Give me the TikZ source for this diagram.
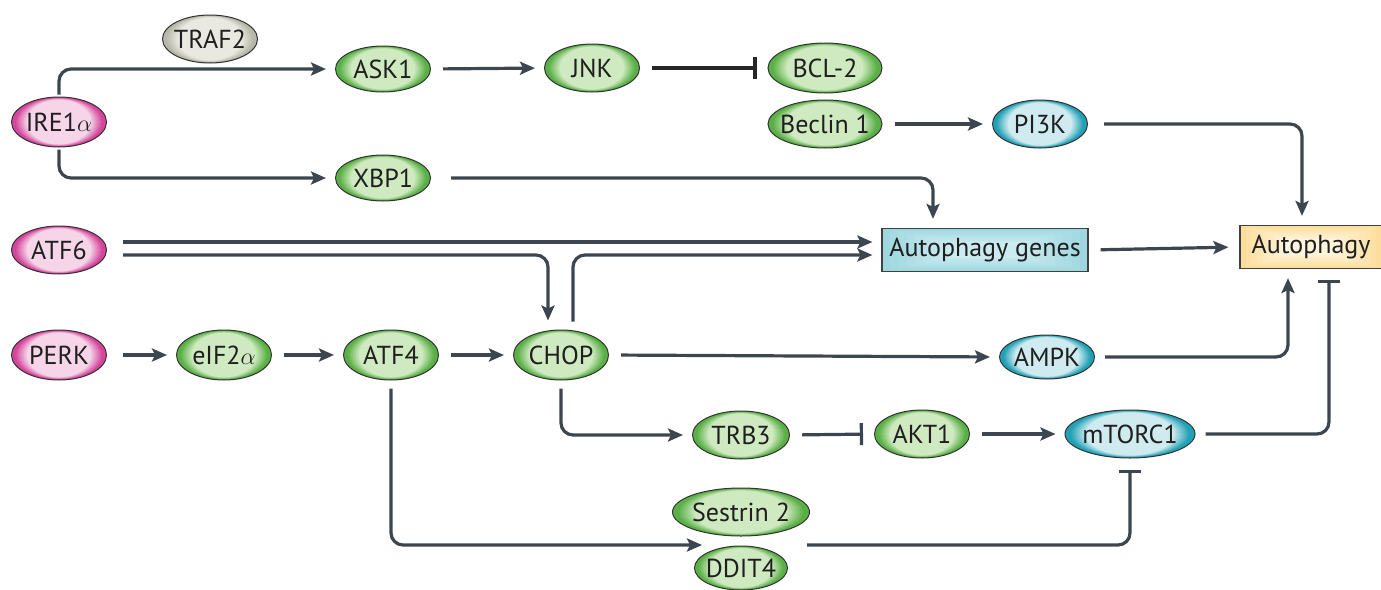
\documentclass[tikz,border=0pt]{standalone}
\usepackage{fontspec}
\setmainfont{PT Sans}
\usetikzlibrary{shapes.geometric,arrows.meta}
\definecolor{lc}{HTML}{3C4650}
\definecolor{gD}{HTML}{5AB046}\definecolor{gL}{HTML}{CFE9C0}
\definecolor{pD}{HTML}{D4459C}\definecolor{pL}{HTML}{F6D5E9}
\definecolor{bD}{HTML}{22A0B6}\definecolor{bL}{HTML}{CFEBF0}
\definecolor{yD}{HTML}{B8B8A9}\definecolor{yL}{HTML}{E9E9E1}
\definecolor{cD}{HTML}{9FD7E0}\definecolor{cL}{HTML}{CBEBF0}
\definecolor{oD}{HTML}{FDDD9C}\definecolor{oL}{HTML}{FFF4DC}
\tikzset{
  ell/.style={ellipse, draw=black!80, line width=0.5pt, inner xsep=-10pt, inner ysep=0pt,
    text=black!88, font=\fontsize{13}{15}\selectfont},
  boxn/.style={rectangle, draw=black!75, line width=0.6pt, inner sep=0pt,
    text=black!88, font=\fontsize{13}{15}\selectfont},
  conn/.style={line width=1.6pt, draw=lc, rounded corners=6pt},
  act/.style={conn, -{Stealth[length=7.5pt,width=6.5pt,inset=1.5pt]}, shorten >=4.5pt, shorten <=6pt},
  inh/.style={conn, -{Bar[width=11pt,line width=1.6pt]}, shorten >=5.5pt, shorten <=6pt},
}
% #1 name, #2 x, #3 y, #4 width px, #5 height px, #6 palette, #7 text
\newcommand\ellcell[7]{%
  \foreach \k in {0,...,10}{%
    \pgfmathtruncatemacro\pp{\k<3 ? 0 : 100*((\k-2)/8)}%
    \fill[#6L!\pp!#6D] (#2,#3) ellipse [x radius={#4/2-0.032*\k*#4/2}, y radius={#5/2-0.011*\k*#5/2}];%
  }%
  \node[ell, minimum width=#4*0.5pt, minimum height=#5*0.5pt] (#1) at (#2,#3) {#7};%
}
\newcommand\boxcell[7]{%
  \foreach \k in {0,...,8}{%
    \pgfmathtruncatemacro\pp{\k*12.5}%
    \fill[#6L!\pp!#6D] ({#2-#4/2+\k*#4*0.04},{#3-#5/2+\k*#5*0.04}) rectangle ({#2+#4/2-\k*#4*0.04},{#3+#5/2-\k*#5*0.04});%
  }%
  \node[boxn, minimum width=#4*0.5pt, minimum height=#5*0.5pt] (#1) at (#2,#3) {#7};%
}
\begin{document}
\begin{tikzpicture}[x=0.5pt,y=-0.5pt]
\useasboundingbox (0,0) rectangle (1381,589);
% nodes
\ellcell{traf}{210}{39}{95}{48}{y}{TRAF2}
\ellcell{ask}{383}{69}{95}{46}{g}{ASK1}
\ellcell{jnk}{592}{68}{95}{48}{g}{JNK}
\ellcell{bcl}{825}{68}{114}{50}{g}{BCL-2}
\ellcell{bec}{825}{124}{114}{48}{g}{Beclin 1}
\ellcell{pi3k}{1040}{124}{95}{48}{b}{PI3K}
\ellcell{ire}{59}{122}{95}{50}{p}{IRE1$\alpha$}
\ellcell{xbp}{383}{178}{95}{46}{g}{XBP1}
\ellcell{atf6}{59}{250}{95}{48}{p}{ATF6}
\boxcell{genes}{985}{250}{206}{43}{c}{Autophagy genes}
\boxcell{auto}{1311}{247}{142}{43}{o}{Autophagy}
\ellcell{perk}{59}{355}{95}{50}{p}{PERK}
\ellcell{eif}{224}{355}{95}{50}{g}{eIF2$\alpha$}
\ellcell{atf4}{391}{355}{95}{50}{g}{ATF4}
\ellcell{chop}{561}{355}{95}{50}{g}{CHOP}
\ellcell{ampk}{1047}{357}{95}{44}{b}{AMPK}
\ellcell{trb}{741}{435}{97}{48}{g}{TRB3}
\ellcell{akt}{922}{434}{95}{48}{g}{AKT1}
\ellcell{mtor}{1130}{434}{130}{48}{b}{mTORC1}
\ellcell{ses}{741}{512}{137}{48}{g}{Sestrin 2}
\ellcell{ddit}{741}{568}{93}{44}{g}{DDIT4}
\coordinate (sdin) at (711,545);
\coordinate (sdout) at (807,545);
% connectors
\draw[act, shorten <=1pt] (ire.north) |- (ask.west);
\draw[act, shorten <=1pt] (ire.south) |- (xbp.west);
\draw[act] (ask.east) -- (jnk.west);
\draw[inh, draw=black!85] (jnk.east) -- (bcl.west);
\draw[act] (bec.east) -- (pi3k.west);
\draw[act, shorten <=8pt] (pi3k.east) -| ([xshift=-4.5pt]auto.north);
\draw[act, shorten <=10pt] (xbp.east) -| ([xshift=-26pt]genes.north);
\draw[act, shorten <=8pt] ([yshift=4pt]atf6.east) -- ([yshift=4pt]genes.west);
\draw[act, shorten <=8pt] ([yshift=-2.5pt]atf6.east) -| ([xshift=-6.5pt]chop.north);
\draw[act, shorten <=4pt] ([xshift=6pt]chop.north) |- ([yshift=-2.5pt]genes.west);
\draw[act, shorten >=5.5pt] (genes.east) -- (auto.west);
\draw[act, shorten <=8pt] (perk.east) -- (eif.west);
\draw[act] (eif.east) -- (atf4.west);
\draw[act] (atf4.east) -- (chop.west);
\draw[act] (chop.east) -- (ampk.west);
\draw[act, shorten <=5pt] (ampk.east) -| ([xshift=-11.5pt]auto.south);
\draw[inh, shorten <=5pt] (mtor.east) -| ([xshift=9pt]auto.south);
\draw[act, shorten <=4pt] (chop.south) |- (trb.west);
\draw[inh] (trb.east) -- (akt.west);
\draw[act] (akt.east) -- (mtor.west);
\draw[act, shorten <=4pt] (atf4.south) |- (sdin);
\draw[inh, shorten <=0pt] (sdout) -| (mtor.south);
\end{tikzpicture}
\end{document}
